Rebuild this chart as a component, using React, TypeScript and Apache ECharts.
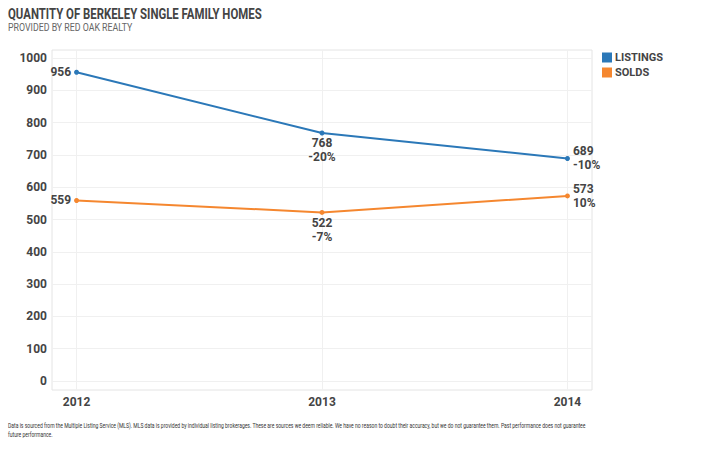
import React, { useEffect, useRef } from "react";
import * as echarts from "echarts";

const years = [2012, 2013, 2014];
const listings = [956, 768, 689];
const solds = [559, 522, 573];
const yTicks = [0, 100, 200, 300, 400, 500, 600, 700, 800, 900, 1000];
const seriesNames = ["LISTINGS", "SOLDS"];
const titleText = "QUANTITY OF BERKELEY SINGLE FAMILY HOMES";
const subtitleText = "PROVIDED BY RED OAK REALTY";
const footLines = [
  "Data is sourced from the Multiple Listing Service (MLS). MLS data is provided by individual listing brokerages. These are sources we deem reliable. We have no reason to doubt their accuracy, but we do not guarantee them. Past performance does not guarantee",
  "future performance.",
];

const FONT = "Roboto, 'Noto Sans', sans-serif";
const BLUE = "#2b78b8";
const ORANGE = "#f5872f";
const TEXT = "#444";

function buildData(vals: number[]) {
  const positions = ["left", "bottom", "right"];
  return vals.map((v, i) => {
    let txt = String(v);
    if (i > 0) {
      const pct = Math.round(((v - vals[i - 1]) / vals[i - 1]) * 100);
      txt += "\n" + pct + "%";
    }
    return {
      value: [years[i], v],
      label: {
        show: true,
        position: positions[i],
        formatter: txt,
        distance: i === 1 ? 1 : 3,
      },
    };
  });
}

export default function App() {
  const ref = useRef<HTMLDivElement>(null);
  useEffect(() => {
    document.body.style.margin = "0";
    if (!ref.current) return;
    const chart = echarts.init(ref.current, null, { renderer: "svg" });
    const labelStyle = {
      color: TEXT,
      fontFamily: FONT,
      fontSize: 12,
      fontWeight: "bold" as const,
      lineHeight: 14,
    };
    const axisLabelStyle = {
      color: TEXT,
      fontFamily: FONT,
      fontSize: 12,
      fontWeight: "bold" as const,
    };
    chart.setOption({
      animation: false,
      backgroundColor: "#fff",
      textStyle: { fontFamily: FONT },
      graphic: [
        {
          type: "text",
          x: 8,
          y: 6,
          scaleX: 0.76,
          style: { text: titleText, x: 0, y: 0, font: "bold 15px Roboto", fill: TEXT },
        },
        {
          type: "text",
          x: 8,
          y: 22,
          scaleX: 0.8,
          style: { text: subtitleText, x: 0, y: 0, font: "11px Roboto", fill: "#666" },
        },
        {
          type: "text",
          x: 8,
          y: 421,
          scaleX: 0.72,
          style: {
            text: footLines.join("\n"),
            x: 0,
            y: 0,
            font: "7px Roboto",
            lineHeight: 9,
            fill: "#333",
          },
        },
      ],
      legend: {
        orient: "vertical",
        left: 602,
        top: 52,
        itemWidth: 10,
        itemHeight: 10,
        itemGap: 4,
        icon: "rect",
        padding: 0,
        data: seriesNames,
        textStyle: { color: TEXT, fontSize: 11, fontWeight: "bold", fontFamily: FONT, padding: [0, 0, 0, -2] },
      },
      grid: {
        left: 52,
        right: 128,
        top: 50,
        bottom: 68,
        show: true,
        borderColor: "#e4e4e4",
        borderWidth: 1,
        containLabel: false,
      },
      xAxis: {
        type: "value",
        min: 2011.9,
        max: 2014.1,
        axisLine: { show: false },
        axisTick: { show: false, customValues: years },
        axisLabel: {
          ...axisLabelStyle,
          customValues: years,
          margin: 6,
          formatter: (v: number) => String(v),
        },
        splitLine: { show: true, lineStyle: { color: "#f0f0f0" } },
      },
      yAxis: {
        type: "value",
        min: -28,
        max: 1025,
        axisLine: { show: false },
        axisTick: { show: false, customValues: yTicks },
        axisLabel: {
          ...axisLabelStyle,
          customValues: yTicks,
          margin: 5,
          formatter: (v: number) => String(v),
        },
        splitLine: { show: true, lineStyle: { color: "#f0f0f0" } },
      },
      series: [
        {
          name: seriesNames[0],
          type: "line",
          data: buildData(listings),
          symbol: "circle",
          symbolSize: 5,
          itemStyle: { color: BLUE },
          lineStyle: { color: BLUE, width: 2 },
          label: labelStyle,
        },
        {
          name: seriesNames[1],
          type: "line",
          data: buildData(solds),
          symbol: "circle",
          symbolSize: 5,
          itemStyle: { color: ORANGE },
          lineStyle: { color: ORANGE, width: 2 },
          label: labelStyle,
        },
      ],
    });
    return () => chart.dispose();
  }, []);
  return <div ref={ref} style={{ width: 720, height: 458 }} />;
}
